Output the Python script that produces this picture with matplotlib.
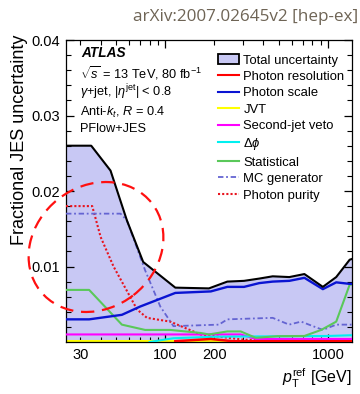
import matplotlib
matplotlib.use("Agg")
import matplotlib.pyplot as plt
from matplotlib.patches import Ellipse, Patch
from matplotlib.lines import Line2D
from matplotlib.ticker import FixedLocator, FuncFormatter
from matplotlib.transforms import IdentityTransform

plt.rcParams['font.family'] = ['Liberation Sans', 'DejaVu Sans']
plt.rcParams['mathtext.fontset'] = 'custom'
plt.rcParams['mathtext.rm'] = 'Liberation Sans'
plt.rcParams['mathtext.it'] = 'Liberation Sans:italic'
plt.rcParams['mathtext.bf'] = 'Liberation Sans:bold'

# ---------------- data ----------------
pt_total = [24.5, 35, 46, 58, 73, 115, 185, 240, 304, 377, 456, 577, 714, 927, 1120, 1355, 1400]
total = [0.0260, 0.0260, 0.0227, 0.0161, 0.0106, 0.0072, 0.0071, 0.0080, 0.0081, 0.0084,
         0.0087, 0.0086, 0.0090, 0.0073, 0.0086, 0.0109, 0.0110]

pt_scale = [24.5, 34, 54, 70, 115, 190, 240, 304, 377, 456, 577, 714, 927, 1120, 1355, 1400]
photon_scale = [0.0030, 0.0030, 0.0036, 0.0047, 0.0065, 0.0067, 0.0073, 0.0073, 0.0078,
                0.0080, 0.0081, 0.0085, 0.0070, 0.0079, 0.0077, 0.0077]

pt_stat = [24.5, 34, 54, 75, 107, 164, 185, 240, 290, 359, 489, 714, 906, 1120, 1355, 1400]
statistical = [0.0069, 0.0069, 0.0023, 0.0016, 0.0016, 0.0012, 0.0010, 0.0014, 0.0014,
               0.00055, 0.00077, 0.0008, 0.0016, 0.0027, 0.0076, 0.0076]

pt_mc = [24.5, 53, 58, 75, 93, 112, 213, 240, 456, 575, 681, 927, 1120, 1400]
mc_generator = [0.0170, 0.0170, 0.0161, 0.0095, 0.0047, 0.0021, 0.0023, 0.0030, 0.0032,
                0.0023, 0.0027, 0.0016, 0.0023, 0.0023]

pt_pur = [24.5, 35.5, 40, 48, 67, 77, 107, 164, 304, 1000]
photon_purity = [0.0180, 0.0180, 0.0139, 0.0100, 0.0043, 0.0032, 0.0027, 0.0010, 0.0003, 0.0002]

pt_veto = [24.5, 290, 359, 1400]
second_jet_veto = [0.0010, 0.0010, 0.0004, 0.0004]

pt_dphi = [80, 112, 200, 1000, 1400]
delta_phi = [0.0, 0.0005, 0.0007, 0.0008, 0.0009]

pt_res = [115, 190, 260, 1400]
photon_resolution = [0.0001, 0.0004, 0.0001, 0.0001]

pt_jvt = [24.5, 1400]
jvt = [0.0001, 0.0001]

legend_labels = ["Total uncertainty", "Photon resolution", "Photon scale", "JVT",
                 "Second-jet veto", r"$\Delta\phi$", "Statistical", "MC generator",
                 "Photon purity"]

# ---------------- figure ----------------
W, H = 360, 394
fig = plt.figure(figsize=(W / 100, H / 100), dpi=100)
ax = fig.add_axes([66 / W, (H - 342) / H, 286 / W, 302 / H])

fill_col = '#c8c8f4'
ax.fill_between(pt_total, 0, total, color=fill_col, lw=0, zorder=1)
ax.plot(pt_total, total, color='black', lw=1.5, zorder=5)
ax.plot(pt_jvt, jvt, color='#ffff00', lw=1.5, zorder=2)
ax.plot(pt_pur, photon_purity, color='#e8141e', lw=1.5, ls=(0, (1, 1)), zorder=3)
ax.plot(pt_mc, mc_generator, color='#6464d2', lw=1.3, ls=(0, (3, 1.5, 1, 1.5)), zorder=3)
ax.plot(pt_stat, statistical, color='#5ac85a', lw=1.5, zorder=4)
ax.plot(pt_scale, photon_scale, color='#0a14d2', lw=1.7, zorder=4)
ax.plot(pt_veto, second_jet_veto, color='#ff00ff', lw=1.5, zorder=3)
ax.plot(pt_dphi, delta_phi, color='#00f0f0', lw=1.5, zorder=3)
ax.plot(pt_res, photon_resolution, color='#ff0000', lw=1.8, zorder=3)

ax.set_xscale('log')
ax.set_xlim(24.5, 1400)
ax.set_ylim(0, 0.04)

ax.xaxis.set_major_locator(FixedLocator([100, 1000]))
ax.xaxis.set_major_formatter(FuncFormatter(lambda v, p: f"{v:g}"))
minors = [m * d for d in (10, 100, 1000) for m in range(2, 10) if 24 < m * d < 1400]
ax.xaxis.set_minor_locator(FixedLocator(minors))
ax.xaxis.set_minor_formatter(FuncFormatter(lambda v, p: f"{v:g}" if round(v) in (30, 200) else ""))

ax.yaxis.set_major_locator(FixedLocator([0.01, 0.02, 0.03, 0.04]))
ax.yaxis.set_minor_locator(FixedLocator([i * 0.002 for i in range(1, 20)]))
ax.yaxis.set_major_formatter(FuncFormatter(lambda v, p: f"{v:.2f}"))

ax.tick_params(which='both', direction='in', top=True, right=True, labelsize=10.5, pad=4)
ax.tick_params(which='major', length=6, width=0.9)
ax.tick_params(which='minor', length=3.5, width=0.8)
for s in ax.spines.values():
    s.set_linewidth(0.9)

def px(x, y):
    return (x / W, 1 - y / H)

fig.text(*px(20, 140), "Fractional JES uncertainty", rotation=90, ha='center', va='center',
         fontsize=13)
fig.text(*px(352, 378), r"$p_{\mathrm{T}}^{\mathrm{ref}}$ [GeV]", ha='right', va='center',
         fontsize=11.5)
fig.text(*px(358, 17), "arXiv:2007.02645v2 [hep-ex]", ha='right', va='center',
         fontsize=12.3, color='#6e6455', family=['Open Sans', 'DejaVu Sans'])

# corner text
fig.text(*px(81, 53), "ATLAS", fontsize=9.8, fontweight='bold', fontstyle='italic', va='center')
fig.text(*px(80, 73), r"$\sqrt{s}$ = 13 TeV, 80 fb$^{-1}$", fontsize=9.2, va='center')
fig.text(*px(80, 92), r"$\gamma$+jet, $|\eta^{\rm jet}|$ < 0.8", fontsize=9.2, va='center')
fig.text(*px(80, 112), r"Anti-$k_{t}$, $R$ = 0.4", fontsize=9.2, va='center')
fig.text(*px(80, 129), "PFlow+JES", fontsize=9.2, va='center')

# legend
handles = [
    Patch(facecolor=fill_col, edgecolor='black', lw=1.3),
    Line2D([], [], color='#ff0000', lw=1.5),
    Line2D([], [], color='#0a14d2', lw=1.5),
    Line2D([], [], color='#ffff00', lw=1.5),
    Line2D([], [], color='#ff00ff', lw=1.5),
    Line2D([], [], color='#00f0f0', lw=1.5),
    Line2D([], [], color='#5ac85a', lw=1.5),
    Line2D([], [], color='#6464d2', lw=1.3, ls=(0, (3, 1.5, 1, 1.5))),
    Line2D([], [], color='#e8141e', lw=1.5, ls=(0, (1, 1))),
]
fig.legend(handles, legend_labels, loc='upper left', bbox_to_anchor=px(218, 54),
           frameon=False, fontsize=9.4, handlelength=1.6, handletextpad=0.35,
           labelspacing=0.3, borderpad=0, borderaxespad=0, handleheight=0.8)

# red dashed annotation ellipse
ell = Ellipse((96, H - 247), 142, 122, angle=38, transform=IdentityTransform(),
              fill=False, edgecolor='#ff1010', lw=1.6, ls=(0, (6, 3.5)), zorder=10,
              clip_on=False)
fig.add_artist(ell)

fig.savefig("out.png", dpi=100)
